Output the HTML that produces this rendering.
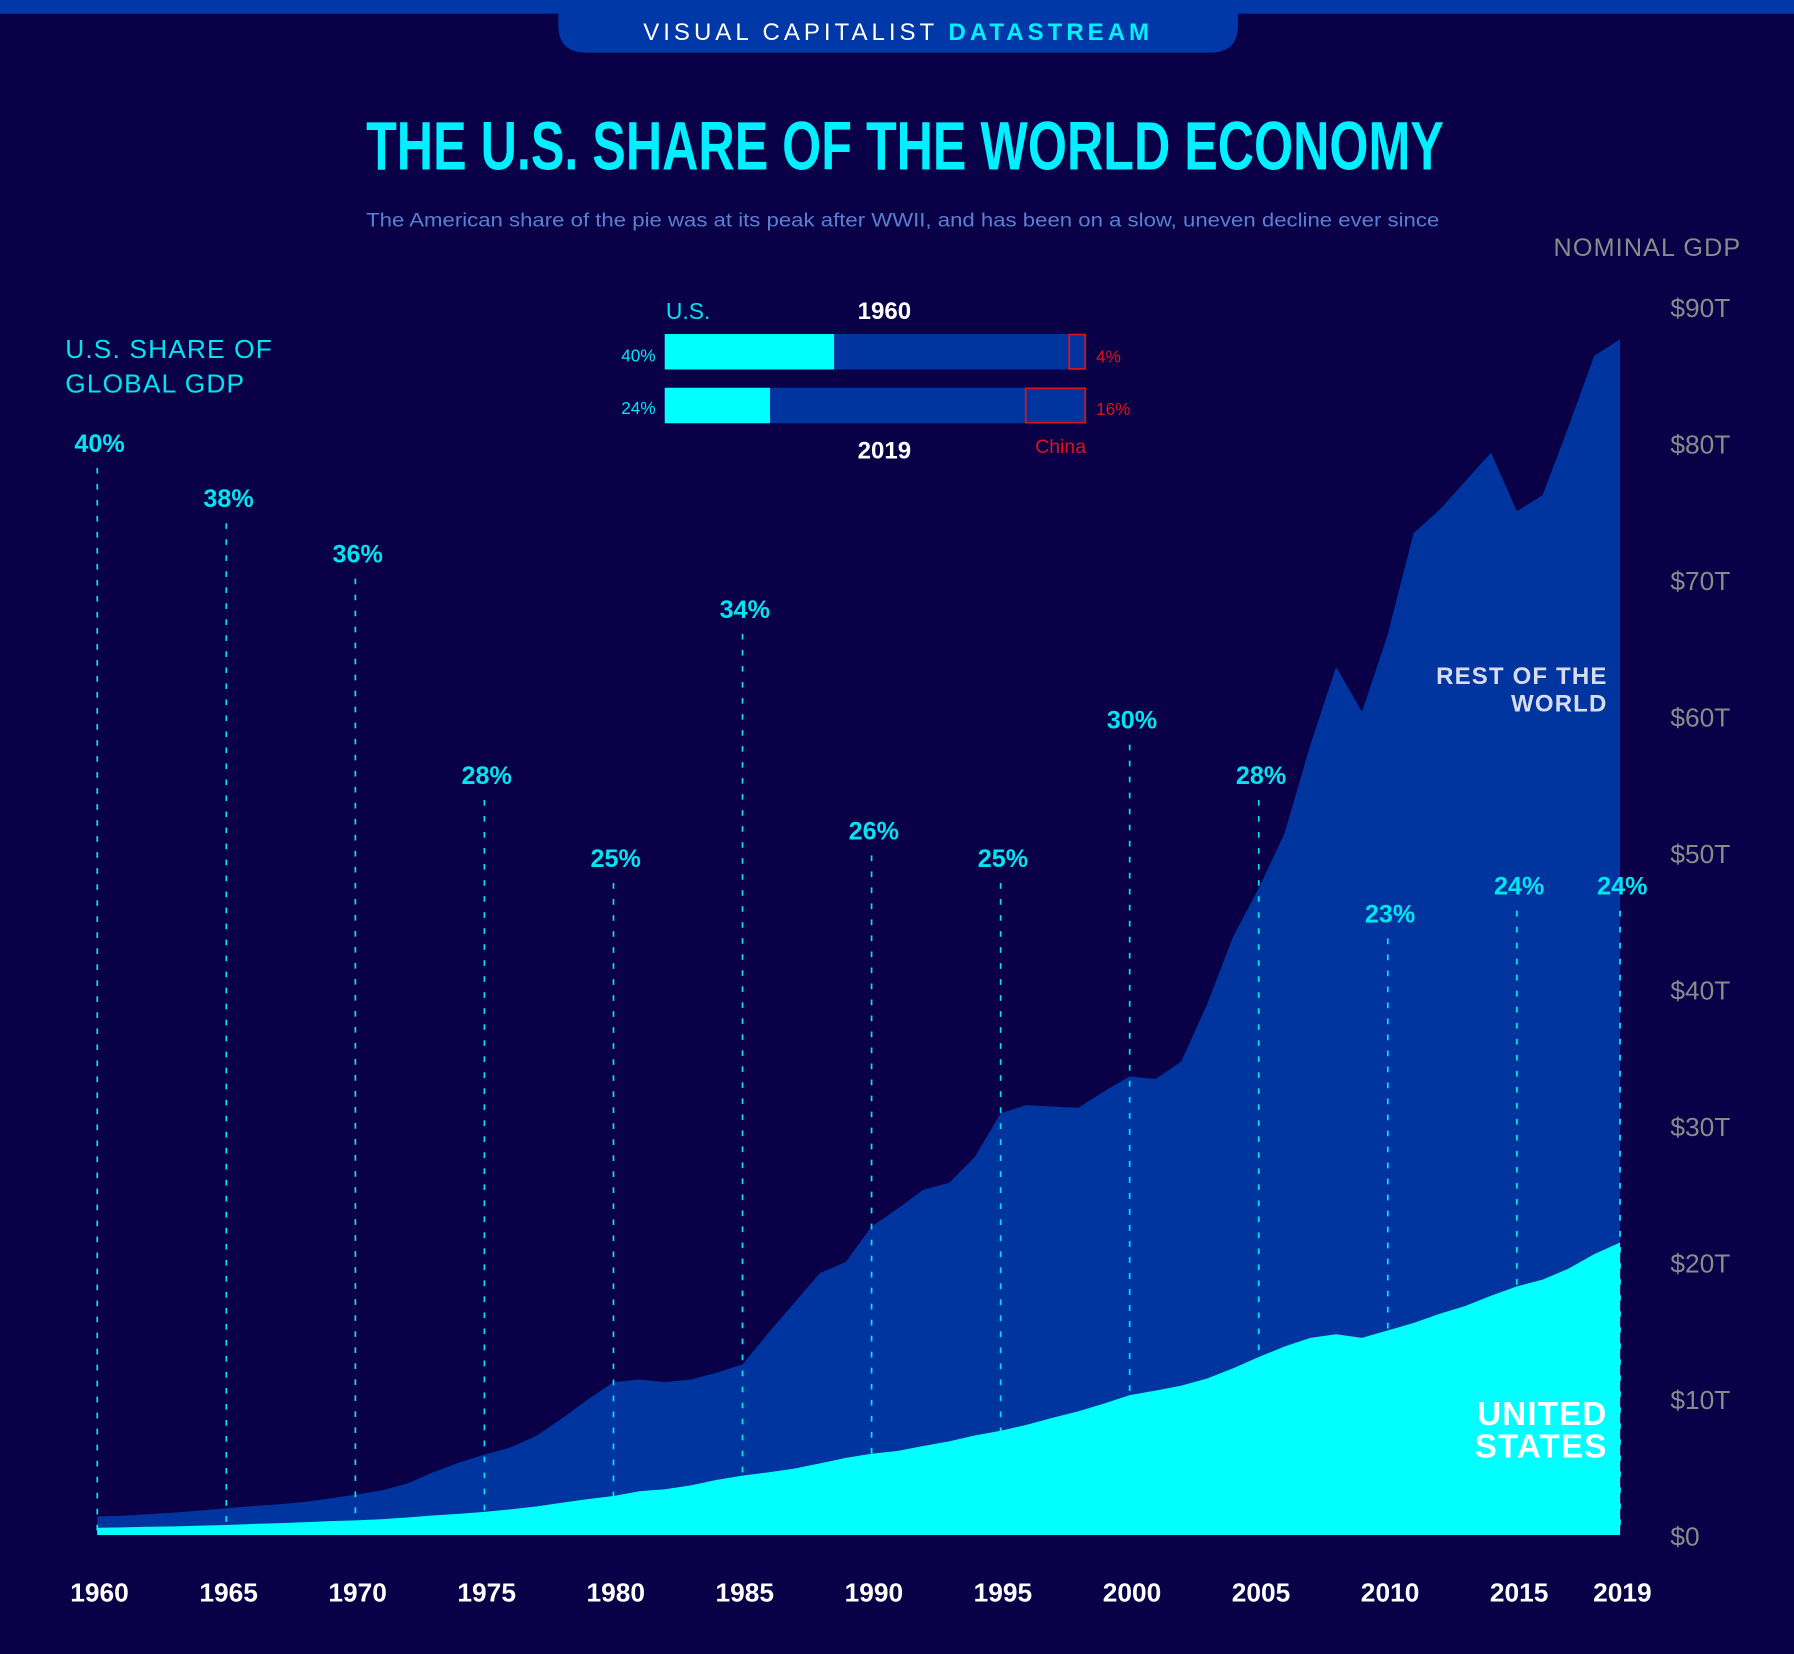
<!DOCTYPE html>
<html><head><meta charset="utf-8">
<style>
html,body{margin:0;padding:0;background:#0a0048;}
svg{display:block;}
text{font-family:"Liberation Sans",sans-serif;}
</style></head>
<body>
<svg id="chart" width="1794" height="1654" viewBox="0 0 1568 1446" preserveAspectRatio="none" xmlns="http://www.w3.org/2000/svg">
<rect x="0" y="0" width="1568" height="1446" fill="#0a0048"/>
<rect x="0" y="0" width="1568" height="12" fill="#0038a8"/>
<path d="M488 0 H1082 V22 Q1082 46 1058 46 H512 Q488 46 488 22 Z" fill="#0038a8"/>
<text x="785" y="35" text-anchor="middle" font-size="21" letter-spacing="3.5" fill="#ffffff">VISUAL CAPITALIST <tspan fill="#00f0ff" font-weight="bold">DATASTREAM</tspan></text>
<text x="320" y="148" font-size="60" font-weight="bold" fill="#00f0ff" textLength="942" lengthAdjust="spacingAndGlyphs" style="font-family:'Liberation Sans Narrow','Liberation Sans',sans-serif">THE U.S. SHARE OF THE WORLD ECONOMY</text>
<text x="320" y="198" font-size="17" fill="#5b7fd0" textLength="938" lengthAdjust="spacingAndGlyphs">The American share of the pie was at its peak after WWII, and has been on a slow, uneven decline ever since</text>
<text x="1522" y="224" text-anchor="end" font-size="22" fill="#8a8a8a" letter-spacing="1">NOMINAL GDP</text>
<text x="57" y="313" font-size="23" fill="#00e5f0" letter-spacing="1">U.S. SHARE OF</text>
<text x="57" y="343" font-size="23" fill="#00e5f0" letter-spacing="1">GLOBAL GDP</text>

<g>
<text x="582" y="279" font-size="20" fill="#00e5f0">U.S.</text>
<text x="773" y="279" text-anchor="middle" font-size="21" font-weight="bold" fill="#ffffff">1960</text>
<text x="573" y="316" text-anchor="end" font-size="15" fill="#00e5f0">40%</text>
<rect x="581" y="292" width="368" height="31" fill="#0035a0"/>
<rect x="581" y="292" width="148" height="31" fill="#00ffff"/>
<rect x="934.5" y="292.5" width="14" height="30" fill="none" stroke="#e0101a" stroke-width="1.5"/>
<text x="958" y="317" font-size="15" fill="#e0101a">4%</text>
<text x="573" y="362" text-anchor="end" font-size="15" fill="#00e5f0">24%</text>
<rect x="581" y="339" width="368" height="31" fill="#0035a0"/>
<rect x="581" y="339" width="92" height="31" fill="#00ffff"/>
<rect x="896.5" y="339.5" width="52" height="30" fill="none" stroke="#e0101a" stroke-width="1.5"/>
<text x="958" y="363" font-size="15" fill="#e0101a">16%</text>
<text x="773" y="401" text-anchor="middle" font-size="21" font-weight="bold" fill="#ffffff">2019</text>
<text x="927" y="396" text-anchor="middle" font-size="17" fill="#e0101a">China</text>
</g>

<g id="yaxis"></g>
<g id="world"></g>
<g id="lines"></g>
<g id="us"></g>
<g id="xaxis"></g>
<g id="pcts"></g>

<text x="1405" y="598" text-anchor="end" font-size="21" font-weight="bold" fill="#d8dcf0" letter-spacing="1">REST OF THE</text>
<text x="1405" y="622" text-anchor="end" font-size="21" font-weight="bold" fill="#d8dcf0" letter-spacing="1">WORLD</text>
<text x="1405" y="1246" text-anchor="end" font-size="29" font-weight="bold" fill="#ffffff" letter-spacing="1">UNITED</text>
<text x="1405" y="1274" text-anchor="end" font-size="29" font-weight="bold" fill="#ffffff" letter-spacing="1">STATES</text>
</svg>
<script>
const years = [];
for (let y = 1960; y <= 2019; y++) years.push(y);
const worldGdp = [1.37,1.42,1.53,1.64,1.80,1.96,2.12,2.25,2.42,2.67,2.96,3.26,3.77,4.59,5.30,5.90,6.41,7.26,8.54,9.93,11.2,11.4,11.2,11.4,11.9,12.5,14.8,17.0,19.2,20.0,22.6,23.9,25.3,25.8,27.7,30.9,31.5,31.4,31.3,32.5,33.6,33.4,34.7,38.9,43.8,47.4,51.4,57.9,63.6,60.3,66.0,73.4,75.1,77.2,79.3,75.0,76.2,81.2,86.4,87.6];
const usGdp = [0.54,0.56,0.60,0.64,0.69,0.74,0.81,0.86,0.94,1.02,1.07,1.16,1.28,1.43,1.55,1.69,1.88,2.09,2.36,2.63,2.86,3.21,3.35,3.64,4.04,4.35,4.59,4.87,5.25,5.66,5.96,6.16,6.52,6.86,7.29,7.64,8.07,8.58,9.06,9.63,10.25,10.58,10.94,11.46,12.21,13.04,13.81,14.45,14.71,14.45,14.99,15.54,16.2,16.78,17.53,18.22,18.71,19.52,20.58,21.43];
const yTicks = [0,10,20,30,40,50,60,70,80,90];
const xTickYears = [1960,1965,1970,1975,1980,1985,1990,1995,2000,2005,2010,2015,2019];
const shareYears = [1960,1965,1970,1975,1980,1985,1990,1995,2000,2005,2010,2015,2019];
const shareValues = [40,38,36,28,25,34,26,25,30,28,23,24,24];

const NS = "http://www.w3.org/2000/svg";
const X0 = 85, X1 = 1416, Y0 = 1342, Y90 = 268;
const xs = yr => X0 + (yr - 1960) / (2019 - 1960) * (X1 - X0);
const ys = v => Y0 - v / 90 * (Y0 - Y90);
const shareY = s => 387 + (40 - s) * 24.2;
function mk(tag, attrs, parent) {
  const e = document.createElementNS(NS, tag);
  for (const k in attrs) e.setAttribute(k, attrs[k]);
  parent.appendChild(e);
  return e;
}
function areaPath(vals) {
  let d = "M" + xs(years[0]) + " " + Y0;
  vals.forEach((v, i) => { d += " L" + xs(years[i]).toFixed(1) + " " + ys(v).toFixed(1); });
  d += " L" + xs(years[years.length - 1]) + " " + Y0 + " Z";
  return d;
}
const world = mk("path", {d: areaPath(worldGdp), fill: "#0035a0"}, document.getElementById("world"));


const us = mk("path", {d: areaPath(usGdp), fill: "#00ffff"}, document.getElementById("us"));



const ya = document.getElementById("yaxis");
yTicks.forEach(t => {
  const e = mk("text", {x: 1460, y: ys(t) + 9, "font-size": 23, fill: "#8a8a8a"}, ya);
  e.textContent = "$" + t + (t ? "T" : "");
  
  
});
const xa = document.getElementById("xaxis");
xTickYears.forEach(yr => {
  const e = mk("text", {x: xs(yr) + 2, y: 1400, "text-anchor": "middle", "font-size": 23, "font-weight": "bold", fill: "#ffffff"}, xa);
  e.textContent = yr;
  
  
});
const ln = document.getElementById("lines"), pc = document.getElementById("pcts");
shareYears.forEach((yr, i) => {
  const top = shareY(shareValues[i]);
  const l = mk("line", {x1: xs(yr), x2: xs(yr), y1: top + 22, y2: Y0, stroke: "#00e5f0", "stroke-width": 1.5, "stroke-dasharray": "5 9"}, ln);
  
  
  const t = mk("text", {x: xs(yr) + 2, y: top + 8, "text-anchor": "middle", "font-size": 22, "font-weight": "bold", fill: "#00e5f0"}, pc);
  t.textContent = shareValues[i] + "%";
  
  
});
</script>
</body></html>
